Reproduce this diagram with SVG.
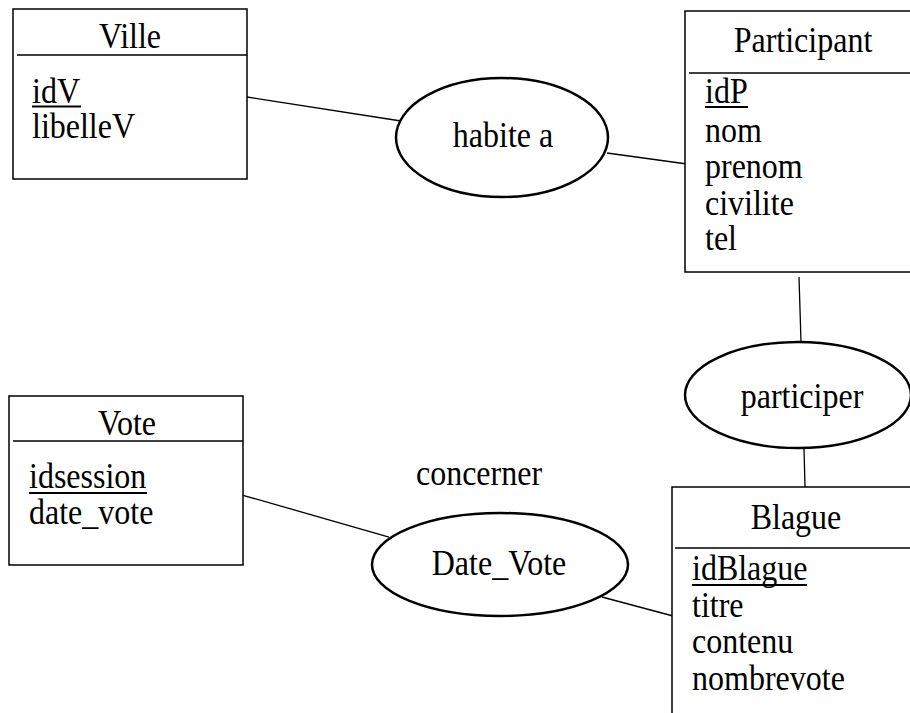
<svg xmlns="http://www.w3.org/2000/svg" width="910" height="713" viewBox="0 0 910 713">
<style>
  text { font-family: "Liberation Serif", "Times New Roman", serif; font-size: 32px; fill: #000; }
  .title { text-anchor: middle; }
  .box { fill: #fff; stroke: #000; stroke-width: 1.5; }
  .sep { stroke: #000; stroke-width: 1.5; }
  .rel { fill: #fff; stroke: #000; stroke-width: 2.5; }
  .conn line { stroke: #000; stroke-width: 1.3; }
  .u { stroke: #000; stroke-width: 2; }
</style>
<rect width="910" height="713" fill="#fff"/>
<g class="conn" id="connectors">
  <line x1="247" y1="97" x2="401" y2="121"/>
  <line x1="607" y1="153" x2="687" y2="164"/>
  <line x1="799" y1="277" x2="801" y2="342"/>
  <line x1="804" y1="448" x2="805" y2="487"/>
  <line x1="242" y1="495" x2="389" y2="537"/>
  <line x1="602" y1="597" x2="673" y2="616"/>
</g>
<g id="ville">
  <rect class="box" x="13" y="9" width="234" height="170"/>
  <line class="sep" x1="17" y1="55" x2="247" y2="55"/>
  <text class="title" transform="translate(130 48) scale(1 1.09)">Ville</text>
  <text transform="translate(32 103) scale(1 1.09)">idV</text>
  <line class="u" x1="32" y1="106.5" x2="81" y2="106.5"/>
  <text transform="translate(32 138) scale(1 1.09)">libelleV</text>
</g>
<g id="participant">
  <rect class="box" x="685" y="11" width="240" height="261"/>
  <line class="sep" x1="689" y1="73" x2="925" y2="73"/>
  <text class="title" transform="translate(803 52) scale(1 1.09)">Participant</text>
  <text transform="translate(705 103) scale(1 1.09)">idP</text>
  <line class="u" x1="705" y1="107" x2="748" y2="107"/>
  <text transform="translate(705 142) scale(1 1.09)">nom</text>
  <text transform="translate(705 178) scale(1 1.09)">prenom</text>
  <text transform="translate(705 215) scale(1 1.09)">civilite</text>
  <text transform="translate(705 250) scale(1 1.09)">tel</text>
</g>
<g id="habite">
  <ellipse class="rel" cx="502" cy="137.5" rx="106" ry="59.5"/>
  <text class="title" transform="translate(503 147) scale(1 1.09)">habite a</text>
</g>
<g id="participer">
  <ellipse class="rel" cx="798" cy="395" rx="113" ry="53"/>
  <text class="title" transform="translate(802 408) scale(1 1.09)">participer</text>
</g>
<g id="vote">
  <rect class="box" x="9" y="396" width="234" height="169"/>
  <line class="sep" x1="13" y1="441" x2="243" y2="441"/>
  <text class="title" transform="translate(127 435) scale(1 1.09)">Vote</text>
  <text transform="translate(29 488) scale(1 1.09)">idsession</text>
  <line class="u" x1="29" y1="493" x2="147" y2="493"/>
  <text transform="translate(29 524) scale(1 1.09)">date_vote</text>
</g>
<g id="datevote">
  <text class="title" transform="translate(479 485) scale(1 1.09)">concerner</text>
  <ellipse class="rel" cx="500" cy="564.5" rx="128" ry="51.5"/>
  <text class="title" transform="translate(499 575) scale(1 1.09)">Date_Vote</text>
</g>
<g id="blague">
  <rect class="box" x="672" y="487" width="250" height="240"/>
  <line class="sep" x1="675" y1="548" x2="922" y2="548"/>
  <text class="title" transform="translate(796 529) scale(1 1.09)">Blague</text>
  <text transform="translate(692 580) scale(1 1.09)">idBlague</text>
  <line class="u" x1="692" y1="585" x2="807" y2="585"/>
  <text transform="translate(692 617) scale(1 1.09)">titre</text>
  <text transform="translate(692 653) scale(1 1.09)">contenu</text>
  <text transform="translate(692 690) scale(1 1.09)">nombrevote</text>
</g>
</svg>
